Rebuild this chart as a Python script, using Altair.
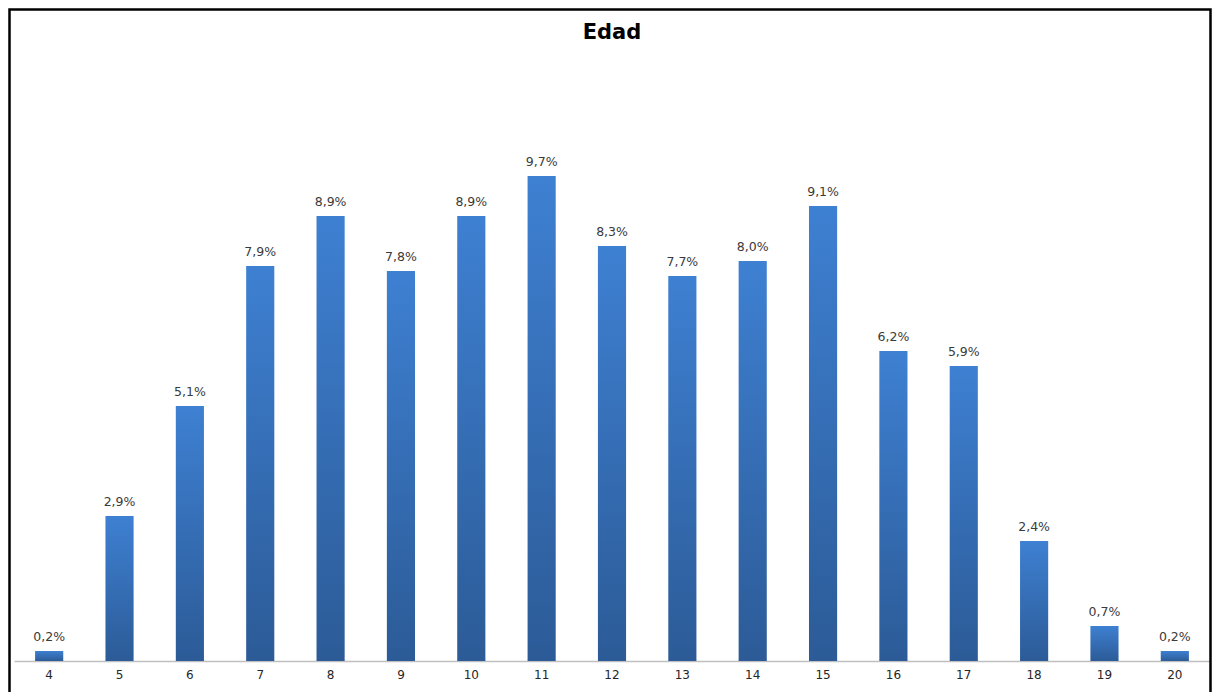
import altair as alt
import pandas as pd

edades = [4, 5, 6, 7, 8, 9, 10, 11, 12, 13, 14, 15, 16, 17, 18, 19, 20]
porcentajes = [0.2, 2.9, 5.1, 7.9, 8.9, 7.8, 8.9, 9.7, 8.3, 7.7, 8.0, 9.1, 6.2, 5.9, 2.4, 0.7, 0.2]
etiquetas = [f"{v:.1f}".replace(".", ",") + "%" for v in porcentajes]
titulo = ["Edad"]

df = pd.DataFrame({"edad": edades, "pct": porcentajes, "etiqueta": etiquetas})

W = 1196
H = 600
PAD_L, PAD_T, PAD_R, PAD_B = 6, 53, 2, 31

x_enc = alt.X(
    "edad:O",
    scale=alt.Scale(paddingInner=0.6, paddingOuter=0.3),
    axis=alt.Axis(
        title=None,
        labelAngle=0,
        ticks=False,
        labelPadding=8,
        labelFont="DejaVu Sans",
        labelFontSize=12,
        labelColor="#262626",
        domainColor="#bfbfbf",
        domainWidth=1.5,
    ),
)
y_scale = alt.Scale(domain=[0, 12], nice=False, zero=True)

gradient = alt.Gradient(
    gradient="linear",
    stops=[
        alt.GradientStop(color="#3e80d2", offset=0),
        alt.GradientStop(color="#2c5b97", offset=1),
    ],
    x1=0, x2=0, y1=0, y2=1,
)

base = alt.Chart(df)

bars = base.mark_bar(color=gradient).encode(
    x=x_enc,
    y=alt.Y("pct:Q", scale=y_scale, axis=None),
)

labels = base.mark_text(
    font="DejaVu Sans",
    fontSize=12.5,
    color="#3a3a3a",
    align="center",
    baseline="alphabetic",
    dy=-10,
).encode(
    x=x_enc,
    y=alt.Y("pct:Q", scale=y_scale, axis=None),
    text="etiqueta:N",
)

title = alt.Chart(pd.DataFrame({"t": titulo})).mark_text(
    font="DejaVu Sans",
    fontSize=21,
    fontWeight="bold",
    color="black",
    align="center",
    baseline="alphabetic",
).encode(
    x=alt.value(W / 2),
    y=alt.value(-PAD_T + 31),
    text="t:N",
)

frame = alt.Chart(alt.Data(values=[{}])).mark_rect(
    fill="white", fillOpacity=0, stroke="black", strokeWidth=2.5
).encode(
    x=alt.value(-4.5),
    x2=alt.value(W + PAD_R - 1.5),
    y=alt.value(-PAD_T + 1.5),
    y2=alt.value(H + 200),
)

chart = (
    alt.layer(bars, labels, title, frame)
    .properties(
        width=W,
        height=H,
        autosize=alt.AutoSizeParams(type="none"),
        padding={"left": PAD_L, "top": PAD_T, "right": PAD_R, "bottom": PAD_B},
        background="white",
    )
    .configure_view(stroke=None)
)

chart.save("out.html", embed_options={"renderer": "svg", "actions": False})
